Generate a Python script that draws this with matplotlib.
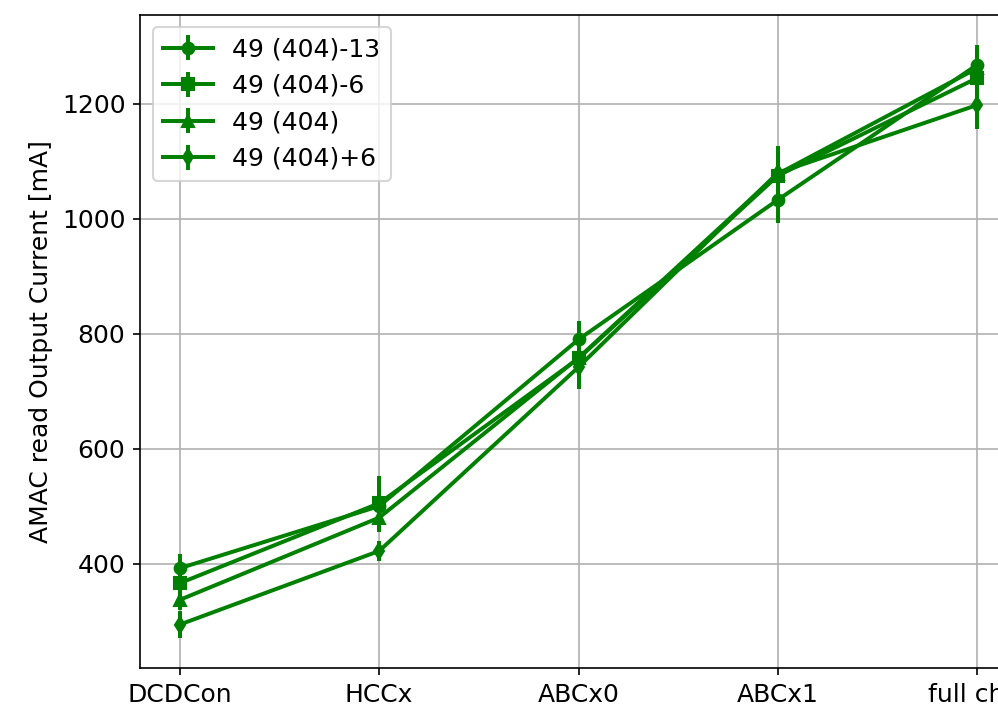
import numpy as np
import matplotlib
matplotlib.use("Agg")
import matplotlib.pyplot as plt

steps = ["DCDCon", "HCCx", "ABCx0", "ABCx1", "full chip"]
labels = ["49 (404)-13", "49 (404)-6", "49 (404)", "49 (404)+6"]
markers = ["o", "s", "^", "d"]

vals_m13 = [392, 500, 790, 1033, 1268]
vals_m6 = [366, 505, 757, 1075, 1245]
vals_0 = [337, 480, 758, 1078, 1262]
vals_p6 = [294, 422, 742, 1080, 1198]

err_m13 = [24, 30, 33, 40, 35]
err_m6 = [20, 48, 30, 40, 35]
err_0 = [18, 25, 30, 35, 30]
err_p6 = [24, 17, 38, 47, 42]

values = [vals_m13, vals_m6, vals_0, vals_p6]
errors = [err_m13, err_m6, err_0, err_p6]

plt.rcParams["font.size"] = 12
plt.rcParams["lines.linewidth"] = 1.9
plt.rcParams["lines.markersize"] = 5.6

fig = plt.figure(figsize=(998/150, 712/150), dpi=150)
ax = fig.add_axes([140/998, 44/712, 877/998, 653/712])

x = np.arange(len(steps))
for v, e, m, lab in zip(values, errors, markers, labels):
	ax.errorbar(x, v, yerr=e, color="green", marker=m, label=lab)

ax.set_xticks(x)
ax.set_xticklabels(steps)
ax.set_ylabel("AMAC read Output Current [mA]")
ax.grid(True)
ax.legend(loc="upper left")
fig.savefig("out.png", dpi=150)
